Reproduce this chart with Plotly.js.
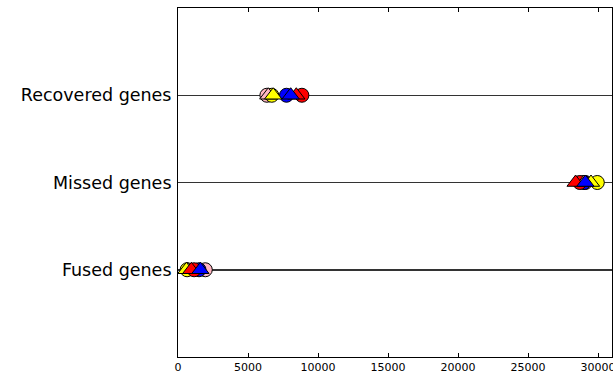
<!DOCTYPE html>
<html><head><meta charset="utf-8">
<script src="https://cdn.plot.ly/plotly-3.0.1.min.js"></script>
<style>html,body{margin:0;padding:0;background:#fff}</style>
</head><body><div id="chart" style="width:613px;height:374px"></div>
<script>
const categories = ["Fused genes", "Missed genes", "Recovered genes"];
const catPos = [0, 1, 2];
const xTicks = [0, 5000, 10000, 15000, 20000, 25000, 30000];

const pinkCircle   = [1950, 29100, 6350];
const pinkTri      = [700, 29000, 6450];
const yellowCircle = [650, 29950, 6700];
const yellowTri    = [600, 29500, 6800];
const redCircle    = [1150, 28700, 8850];
const redTri       = [950, 28400, 8450];
const blueCircle   = [1500, 29000, 7750];
const blueTri      = [1600, 29100, 8050];

const series = [
  {x: pinkCircle, color: "#ffb6c1", symbol: "circle"},
  {x: yellowCircle, color: "#ffff00", symbol: "circle"},
  {x: blueCircle, color: "#0000ff", symbol: "circle"},
  {x: redCircle, color: "#ff0000", symbol: "circle"},
  {x: pinkTri, color: "#ffb6c1", symbol: "triangle-up"},
  {x: yellowTri, color: "#ffff00", symbol: "triangle-up"},
  {x: redTri, color: "#ff0000", symbol: "triangle-up"},
  {x: blueTri, color: "#0000ff", symbol: "triangle-up"}
];

const traces = series.map(s => ({
  type: "scatter", mode: "markers", x: s.x, y: catPos,
  marker: {color: s.color, symbol: s.symbol, size: s.symbol === "circle" ? 14 : 15,
           line: {color: "#000", width: 1}},
  showlegend: false, hoverinfo: "skip", cliponaxis: false
}));

const layout = {
  width: 613, height: 374,
  margin: {l: 178, r: 1, t: 8, b: 17},
  paper_bgcolor: "#fff", plot_bgcolor: "#fff",
  font: {family: "DejaVu Sans", color: "#000"},
  xaxis: {range: [0, 31000], tickvals: xTicks, ticktext: xTicks.map(String),
          showgrid: false, zeroline: false, showline: true, mirror: "ticks",
          linecolor: "#000", linewidth: 1, ticks: "inside", ticklen: 4, tickcolor: "#000",
          ticklabeloverflow: "allow",
          tickfont: {size: 11, family: "DejaVu Sans"}},
  yaxis: {range: [-1, 3], tickvals: catPos, ticktext: categories,
          showgrid: true, gridcolor: "#333", gridwidth: 1.5, zeroline: false,
          showline: true, mirror: true, linecolor: "#000", linewidth: 1,
          ticks: "", ticklabelstandoff: 2,
          tickfont: {size: 17.5, family: "DejaVu Sans"}}
};

Plotly.newPlot("chart", traces, layout, {staticPlot: true});
</script></body></html>
